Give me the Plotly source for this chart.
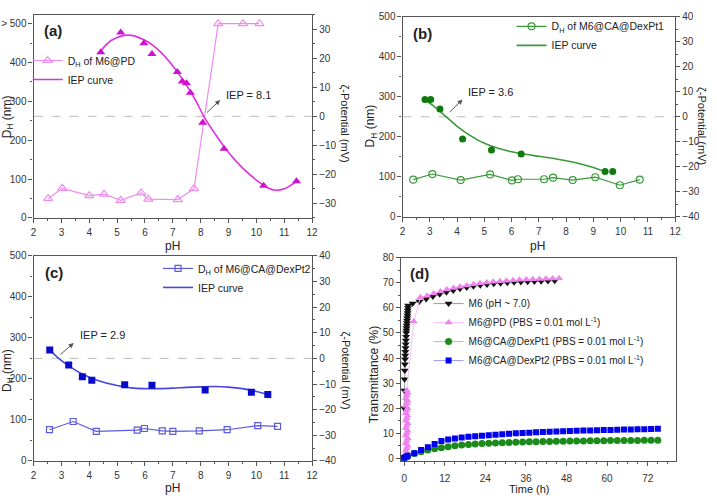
import plotly.graph_objects as go

FONT = "Arial, 'Liberation Sans', Helvetica, sans-serif"
W, H = 717, 503
AX = "#555555"
TICKC = "#333333"

# ---------------- data ----------------
# (a) M6@PD
a_dh_ph = [2.52, 3.03, 4.0, 4.53, 5.13, 5.86, 6.12, 7.18, 7.76, 8.63, 9.52, 10.11]
a_dh = [50, 76, 57, 61, 45, 64, 48, 47, 75, 500, 500, 500]
a_iep_ph = [4.41, 5.13, 5.96, 6.25, 7.16, 7.34, 7.49, 7.63, 8.07, 8.84, 10.26, 11.44]
a_iep = [22.1, 28.9, 25.2, 21.5, 15.3, 12.0, 11.4, 8.1, -2.2, -11.2, -23.9, -22.4]
a_fit_ph = [4.41, 4.8, 5.4, 6.0, 6.6, 7.2, 7.8, 8.11, 8.5, 9.0, 9.5, 10.0, 10.4, 10.7, 11.0, 11.44]
a_fit = [22.5, 26.2, 28.0, 26.2, 21.8, 14.8, 5.8, 0.0, -5.8, -12.5, -17.8, -22.0, -24.6, -25.5, -25.0, -22.4]

# (b) M6@CA@DexPt1
b_dh_ph = [2.39, 3.09, 4.13, 5.21, 6.01, 6.23, 7.19, 7.52, 8.24, 9.07, 9.97, 10.70]
b_dh = [93, 107, 92, 106, 91, 94, 94, 98, 92, 99, 79, 93]
b_iep_ph = [2.82, 3.03, 3.37, 4.20, 5.26, 6.35, 9.43, 9.71]
b_iep = [6.9, 6.9, 3.1, -8.9, -13.3, -14.9, -21.9, -21.9]
b_fit_ph = [2.85, 3.2, 3.6, 4.0, 4.5, 5.0, 5.5, 6.0, 6.5, 7.0, 7.5, 8.0, 8.5, 9.0, 9.43]
b_fit = [6.5, 3.8, 0.0, -3.8, -7.6, -10.6, -12.6, -14.0, -15.0, -15.8, -16.6, -17.6, -18.8, -20.3, -22.0]

# (c) M6@CA@DexPt2
c_dh_ph = [2.57, 3.42, 4.25, 5.72, 5.98, 6.62, 7.0, 7.95, 8.95, 10.05, 10.76]
c_dh = [76, 96, 72, 75, 79, 73, 72, 73, 76, 86, 84]
c_iep_ph = [2.58, 3.26, 3.75, 4.09, 5.27, 6.25, 8.16, 9.82, 10.41]
c_iep = [3.3, -2.6, -7.2, -8.5, -10.3, -10.5, -12.3, -13.2, -14.1]
c_fit_ph = [2.58, 2.9, 3.3, 3.8, 4.3, 5.0, 5.5, 6.0, 6.5, 7.0, 7.5, 8.0, 8.5, 9.0, 9.5, 10.0, 10.41]
c_fit = [3.3, 0.0, -3.2, -6.4, -8.6, -10.6, -11.5, -11.8, -11.8, -11.6, -11.3, -11.1, -11.0, -11.2, -11.8, -12.9, -14.1]

# (d) transmittance vs time
d_m6_t = [0.0, 0.05, 0.1, 0.15, 0.2, 0.25, 0.3, 0.35, 0.4, 0.45, 0.5, 0.55, 0.6, 0.65,
          0.7, 0.75, 0.8, 0.85, 0.9, 0.95, 1.0, 1.05, 1.1, 1.15,
          2.5, 4.5, 6.5, 8.5, 10.5, 12.5, 14.5, 16.5, 18.5, 20.5, 22.5, 24.5, 26.5,
          28.5, 30.5, 32.5, 34.5, 36.5, 38.5, 40.5, 42.5, 44.5]
d_m6 = [20, 27, 31.5, 35, 37.5, 39.5, 41, 42.5, 44, 45.5, 47, 48.5, 50, 51,
        52, 53, 54, 55, 56, 57, 58, 59, 60, 61,
        61.8, 62.6, 63.6, 64.6, 65.5, 66.3, 67.0, 67.7, 68.2, 68.7, 69.1, 69.4, 69.7,
        69.9, 70.1, 70.3, 70.4, 70.5, 70.6, 70.7, 70.8, 70.9]
d_pd_t = [0.5, 0.75, 1.0, 0.5, 0.75, 1.0, 0.5, 0.75, 1.0, 0.5, 0.75, 1.0, 0.5, 0.75,
          1.0, 0.5, 0.75, 1.0, 0.5, 0.75, 1.0, 0.5, 0.75, 1.0, 0.5, 0.75, 1.0, 0.75,
          2.85, 4.8, 6.8, 8.7, 10.7, 12.6, 14.6, 16.5, 18.5, 20.5, 22.4, 24.4, 26.3,
          28.3, 30.2, 32.2, 34.1, 36.1, 38.0, 40.0, 41.9, 43.9, 45.8]
d_pd = [0, 1, 2, 3, 4, 5, 6, 7, 8, 9, 10, 11, 12, 13,
        14, 15, 16, 17, 18, 19, 20, 21, 22, 23, 24, 25, 26, 27,
        54.6, 64.3, 64.9, 65.8, 66.6, 67.4, 68.0, 68.5, 69.0, 69.5, 69.9, 70.2, 70.5,
        70.7, 70.9, 71.1, 71.3, 71.4, 71.5, 71.6, 71.7, 71.8, 71.9]
d_ca_t = [0, 0.5, 1, 3, 5, 7, 9, 11, 13, 15, 17, 19, 21, 23, 25, 27, 29, 31, 33, 35, 37,
          39, 41, 43, 45, 47, 49, 51, 53, 55, 57, 59, 61, 63, 65, 67, 69, 71, 73, 75]
d_pt1 = [0.2, 0.5, 0.8, 1.9, 2.6, 3.3, 3.8, 4.2, 4.6, 5.0, 5.3, 5.5, 5.7, 5.9, 6.0, 6.1,
         6.2, 6.3, 6.4, 6.5, 6.55, 6.6, 6.65, 6.7, 6.75, 6.8, 6.85, 6.9, 6.9, 6.95, 7.0,
         7.0, 7.05, 7.05, 7.1, 7.1, 7.1, 7.15, 7.15, 7.2]
d_pt2 = [0.2, 0.6, 1.0, 2.0, 3.3, 4.4, 5.7, 6.9, 7.5, 7.9, 8.3, 8.6, 8.8, 9.0, 9.2, 9.4,
         9.6, 9.8, 10.0, 10.1, 10.2, 10.4, 10.5, 10.6, 10.7, 10.8, 10.9, 11.0, 11.1, 11.1,
         11.2, 11.3, 11.3, 11.4, 11.5, 11.5, 11.6, 11.6, 11.7, 11.8]

ph_ticks = [2, 3, 4, 5, 6, 7, 8, 9, 10, 11, 12]
a_left_ticks = [0, 100, 200, 300, 400, 500]
a_left_text = ["0", "100", "200", "300", "400", "> 500"]

# ---------------- layout helpers ----------------
def dx(p0, p1):
    return [p0 / W, p1 / W]

def dy(top, bottom):
    return [1 - bottom / H, 1 - top / H]

def xax(dom, rng, dt, mdt, anchor, standoff=1):
    return dict(domain=dom, range=rng, anchor=anchor, tickmode="linear", tick0=0, dtick=dt,
                ticks="outside", ticklen=4, tickwidth=1, tickcolor=AX,
                showline=True, linecolor=AX, linewidth=1.3, mirror=True,
                showgrid=False, zeroline=False, ticklabelstandoff=standoff,
                minor=dict(ticks="outside", ticklen=2, tickwidth=1, tickcolor=AX,
                           dtick=mdt, tick0=0, showgrid=False),
                tickfont=dict(size=10, color=TICKC, family=FONT))

def yax(dom, rng, dt, mdt, anchor, side="left", overlay=None, mirror=False):
    d = dict(domain=dom, range=rng, anchor=anchor, side=side, tickmode="linear", tick0=0,
             dtick=dt, ticks="outside", ticklen=4, tickwidth=1, tickcolor=AX,
             showline=True, linecolor=AX, linewidth=1.3, mirror=mirror,
             showgrid=False, zeroline=False,
             minor=dict(ticks="outside", ticklen=2, tickwidth=1, tickcolor=AX,
                        dtick=mdt, tick0=0, showgrid=False),
             tickfont=dict(size=10, color=TICKC, family=FONT))
    if overlay:
        d["overlaying"] = overlay
    return d

fig = go.Figure()

# (a)
fig.add_trace(go.Scatter(x=a_dh_ph, y=a_dh, mode="lines+markers", name="D<sub>H</sub> of M6@PD",
                         xaxis="x", yaxis="y", legend="legend",
                         line=dict(color="#F08CF0", width=1.2),
                         marker=dict(symbol="triangle-up-open", size=8, color="#F08CF0",
                                     line=dict(width=1.2))))
fig.add_trace(go.Scatter(x=a_fit_ph, y=a_fit, mode="lines", name="IEP curve",
                         xaxis="x", yaxis="y2", legend="legend",
                         line=dict(color="#E030E0", width=1.6, shape="spline")))
fig.add_trace(go.Scatter(x=a_iep_ph, y=a_iep, mode="markers", showlegend=False,
                         xaxis="x", yaxis="y2",
                         marker=dict(symbol="triangle-up", size=8, color="#D010D0")))
# (b)
fig.add_trace(go.Scatter(x=b_dh_ph, y=b_dh, mode="lines+markers", name="D<sub>H</sub> of M6@CA@DexPt1",
                         xaxis="x2", yaxis="y3", legend="legend2",
                         line=dict(color="#3A9A3A", width=1.2),
                         marker=dict(symbol="circle-open", size=7, color="#3A9A3A",
                                     line=dict(width=1.2))))
fig.add_trace(go.Scatter(x=b_fit_ph, y=b_fit, mode="lines", name="IEP curve",
                         xaxis="x2", yaxis="y4", legend="legend2",
                         line=dict(color="#3A9A3A", width=1.6, shape="spline")))
fig.add_trace(go.Scatter(x=b_iep_ph, y=b_iep, mode="markers", showlegend=False,
                         xaxis="x2", yaxis="y4",
                         marker=dict(symbol="circle", size=7, color="#0E7A0E")))
# (c)
fig.add_trace(go.Scatter(x=c_dh_ph, y=c_dh, mode="lines+markers", name="D<sub>H</sub> of M6@CA@DexPt2",
                         xaxis="x3", yaxis="y5", legend="legend3",
                         line=dict(color="#5B5BE0", width=1.2),
                         marker=dict(symbol="square-open", size=6, color="#5B5BE0",
                                     line=dict(width=1.2))))
fig.add_trace(go.Scatter(x=c_fit_ph, y=c_fit, mode="lines", name="IEP curve",
                         xaxis="x3", yaxis="y6", legend="legend3",
                         line=dict(color="#4848E0", width=1.6, shape="spline")))
fig.add_trace(go.Scatter(x=c_iep_ph, y=c_iep, mode="markers", showlegend=False,
                         xaxis="x3", yaxis="y6",
                         marker=dict(symbol="square", size=7, color="#0A0ACC")))
# (d)
fig.add_trace(go.Scatter(x=d_m6_t, y=d_m6, mode="lines+markers", name="M6 (pH ~ 7.0)",
                         xaxis="x4", yaxis="y7", legend="legend4",
                         line=dict(color="#9A9A9A", width=1),
                         marker=dict(symbol="triangle-down", size=7, color="#111111")))
fig.add_trace(go.Scatter(x=d_pd_t, y=d_pd, mode="lines+markers",
                         name="M6@PD (PBS = 0.01 mol L<sup>-1</sup>)",
                         xaxis="x4", yaxis="y7", legend="legend4",
                         line=dict(color="#F4C0F4", width=1),
                         marker=dict(symbol="triangle-up", size=7, color="#EE82EE")))
fig.add_trace(go.Scatter(x=d_ca_t, y=d_pt1, mode="lines+markers",
                         name="M6@CA@DexPt1 (PBS = 0.01 mol L<sup>-1</sup>)",
                         xaxis="x4", yaxis="y7", legend="legend4",
                         line=dict(color="#9CCF9C", width=1),
                         marker=dict(symbol="circle", size=7, color="#1A8A1A")))
fig.add_trace(go.Scatter(x=d_ca_t, y=d_pt2, mode="lines+markers",
                         name="M6@CA@DexPt2 (PBS = 0.01 mol L<sup>-1</sup>)",
                         xaxis="x4", yaxis="y7", legend="legend4",
                         line=dict(color="#9C9CF0", width=1),
                         marker=dict(symbol="square", size=6, color="#0000EE")))

# axes
lay = dict(
    xaxis=xax(dx(31, 313), [2, 12], 1, 0.5, "y"),
    yaxis=yax(dy(9, 217), [0, 523], 100, 50, "x"),
    yaxis2=yax(dy(9, 217), [-35, 35], 10, 5, "x", side="right", overlay="y"),
    xaxis2=xax(dx(404.7, 680.7), [2, 12], 1, 0.5, "y3"),
    yaxis3=yax(dy(11, 216), [0, 500], 100, 50, "x2"),
    yaxis4=yax(dy(11, 216), [-40, 40], 10, 5, "x2", side="right", overlay="y3"),
    xaxis3=xax(dx(31, 313), [2, 12], 1, 0.5, "y5"),
    yaxis5=yax(dy(256, 466), [0, 500], 100, 50, "x3"),
    yaxis6=yax(dy(256, 466), [-40, 40], 10, 5, "x3", side="right", overlay="y5"),
    xaxis4=xax(dx(403, 682), [-0.96, 80.5], 12, 3, "y7", standoff=4),
    yaxis7=yax(dy(258, 466), [-1.05, 80], 10, 5, "x4", mirror=True),
)
lay["yaxis"]["tickmode"] = "array"
lay["yaxis"]["tickvals"] = a_left_ticks
lay["yaxis"]["ticktext"] = a_left_text
for k in ("xaxis", "xaxis2", "xaxis3"):
    lay[k]["tickmode"] = "array"
    lay[k]["tickvals"] = ph_ticks

def leg(xp, yp, size=10.5):
    return dict(x=xp / W, y=1 - yp / H, xanchor="left", yanchor="top",
                bgcolor="rgba(0,0,0,0)", borderwidth=0, tracegroupgap=0,
                font=dict(size=size, color="#222", family=FONT))

fig.update_layout(
    width=W, height=H, margin=dict(l=0, r=0, t=0, b=0),
    paper_bgcolor="white", plot_bgcolor="white",
    font=dict(family=FONT, color="#222"),
    legend=leg(25, 41), legend2=leg(515, 6), legend3=leg(157, 254),
    legend4=leg(431, 290, 10),
    **lay)

# zero (IEP) dashed reference lines on zeta-potential axes
for xr, yr in (("x", "y2"), ("x2", "y4"), ("x3", "y6")):
    fig.add_shape(type="line", xref=xr + " domain", yref=yr, x0=0, x1=1, y0=0, y1=0,
                  line=dict(color="#BBBBBB", width=1, dash="dash"), layer="below")

ann = []
def txt(text, xp, yp, size=11, angle=0, bold=False, xanchor="center", yanchor="middle"):
    ann.append(dict(text=("<b>%s</b>" % text) if bold else text, x=xp / W, y=1 - yp / H,
                    xref="paper", yref="paper", showarrow=False, textangle=angle,
                    xanchor=xanchor, yanchor=yanchor,
                    font=dict(size=size, color="#222", family=FONT)))

# x titles
txt("pH", 172, 246, 12)
txt("pH", 541, 246, 12)
txt("pH", 172, 503, 12, yanchor="bottom")
txt("Time (h)", 533, 503, 11, yanchor="bottom")
# left titles
txt("D<sub>H</sub> (nm)", 5, 113, 12, -90)
txt("D<sub>H</sub> (nm)", 373, 123, 12, -90)
txt("D<sub>H</sub> (nm)", 5, 373, 12, -90)
txt("Transmittance (%)", 376, 377, 12, -90)
# right titles
txt("ζ-Potential (mV)", 346, 120, 11, 90)
txt("ζ-Potential (mV)", 708, 123, 11, 90)
txt("ζ-Potential (mV)", 347, 373, 11, 90)
# panel labels
txt("(a)", 39, 25, 15, bold=True, xanchor="left")
txt("(b)", 413, 28, 15, bold=True, xanchor="left")
txt("(c)", 41, 273, 15, bold=True, xanchor="left")
txt("(d)", 410, 274, 15, bold=True, xanchor="left")

# IEP labels with arrows (arrow head points toward the label)
for xr, yr, tail, head, label, lpos in (
        ("x", "y2", (8.17, 0.8), (8.70, 5.6), "IEP = 8.1", (8.82, 7.5)),
        ("x2", "y4", (3.67, 1.3), (4.20, 6.9), "IEP = 3.6", (4.31, 9.8)),
        ("x3", "y6", (2.91, 1.0), (3.44, 6.0), "IEP = 2.9", (3.60, 9.0))):
    ann.append(dict(x=head[0], y=head[1], xref=xr, yref=yr, ax=tail[0], ay=tail[1],
                    axref=xr, ayref=yr, text="", showarrow=True, arrowhead=2,
                    arrowsize=1, arrowwidth=1, arrowcolor="#555"))
    ann.append(dict(x=lpos[0], y=lpos[1], xref=xr, yref=yr, text=label, showarrow=False,
                    xanchor="left", yanchor="middle",
                    font=dict(size=11, color="#222", family=FONT)))

fig.update_layout(annotations=ann)
fig.write_html("out.html")
